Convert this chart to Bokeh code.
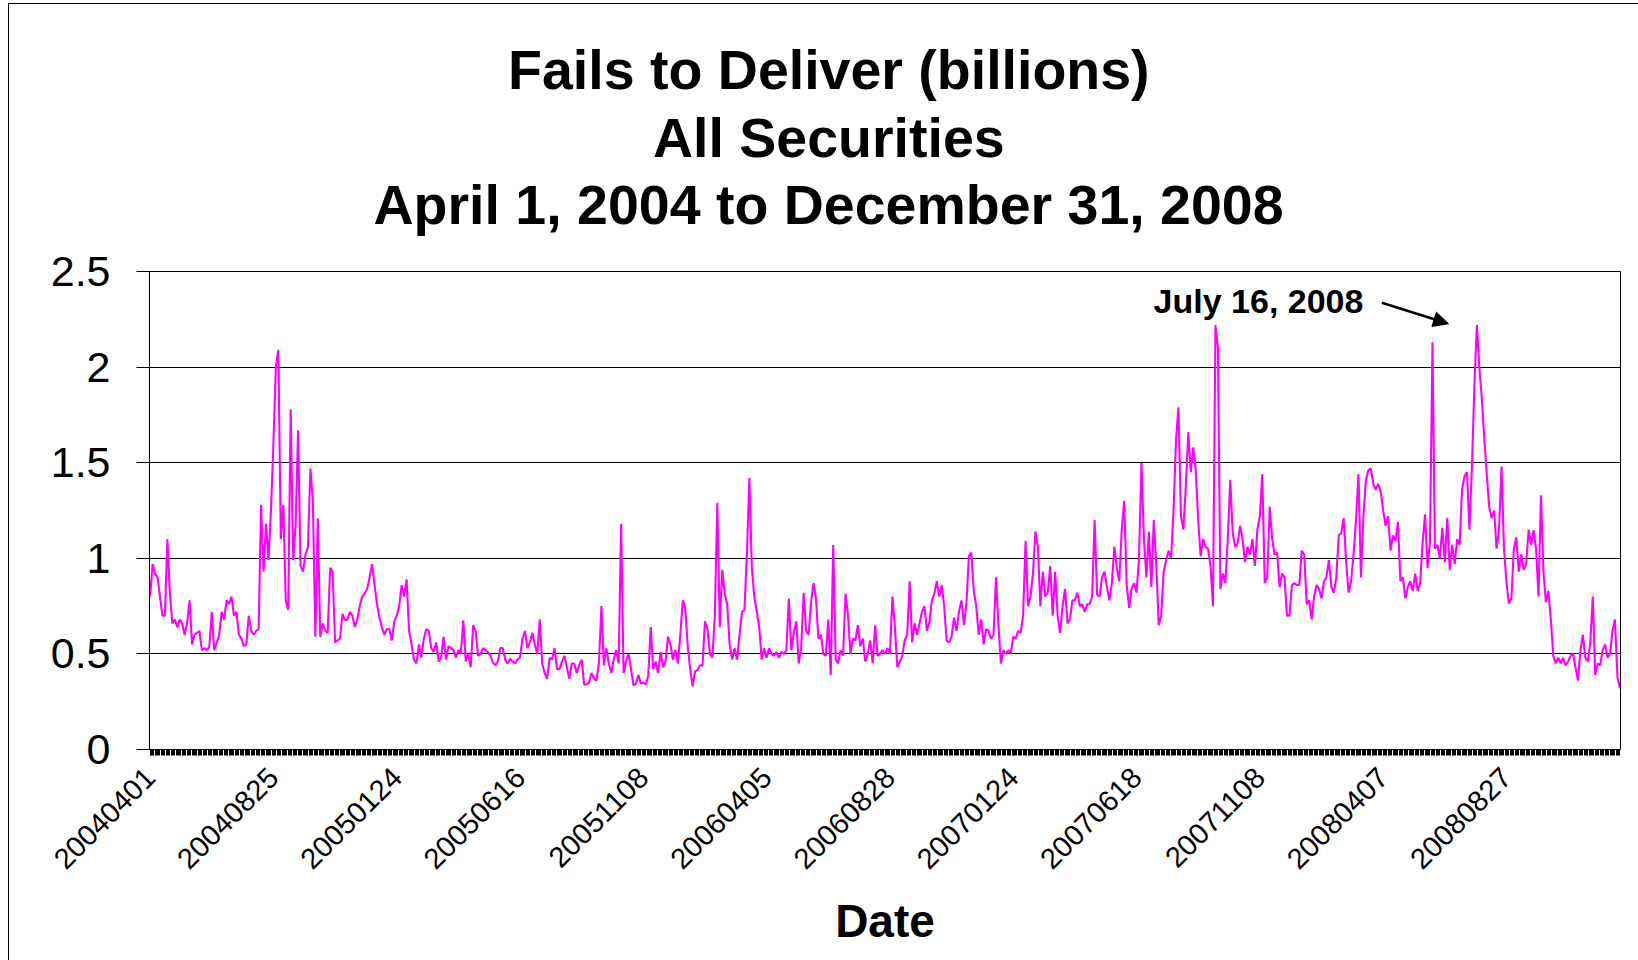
import math
from bokeh.plotting import figure
from bokeh.models import (Range1d, FixedTicker, NumeralTickFormatter, Title,
                          Label, Arrow, NormalHead)
from bokeh.embed import file_html
from bokeh.resources import INLINE

# ---------------- text ----------------
title_lines = ["Fails to Deliver (billions)",
               "All Securities",
               "April 1, 2004 to December 31, 2008"]
x_axis_label = "Date"
annotation_text = "July 16, 2008"

# category labels shown on the x axis (one every 100 trading days)
tick_labels = ["20040401", "20040825", "20050124", "20050616", "20051108",
               "20060405", "20060828", "20070124", "20070618", "20071108",
               "20080407", "20080827"]
days_per_label = 100
y_ticks = [0, 0.5, 1, 1.5, 2, 2.5]

# ---------------- data: fails to deliver, $ billions ----------------
# one reading every 2 trading days, starting 2004-04-01
days_per_value = 2

part1 = [0.80, 0.97, 0.92, 0.90, 0.80, 0.70, 0.70, 1.10, 0.82, 0.66,
         0.68, 0.64, 0.68, 0.66, 0.60, 0.66, 0.78, 0.55, 0.60, 0.61,
         0.62, 0.52, 0.53, 0.52, 0.535, 0.72, 0.52, 0.56, 0.60, 0.72,
         0.68, 0.78, 0.76, 0.80, 0.70, 0.72, 0.60, 0.58, 0.54, 0.55,
         0.70, 0.62, 0.60, 0.62, 0.63, 1.28, 0.93, 1.18, 0.99, 1.25,
         1.60, 2.00, 2.09, 1.10, 1.28, 0.78, 0.73, 1.78, 0.99, 1.17,
         1.67, 0.96, 0.93, 1.02, 1.06, 1.47, 1.30, 0.59, 1.21, 0.59,
         0.66, 0.62, 0.61, 0.95, 0.93, 0.56]

part2 = [0.57, 0.58, 0.71, 0.675, 0.68, 0.72, 0.70, 0.64, 0.68, 0.75,
         0.80, 0.815, 0.84, 0.90, 0.97, 0.86, 0.76, 0.69, 0.64, 0.60,
         0.63, 0.63, 0.57, 0.67, 0.70, 0.75, 0.86, 0.80, 0.89, 0.62,
         0.55, 0.47, 0.45, 0.55, 0.48, 0.58, 0.63, 0.62, 0.53, 0.51,
         0.56, 0.46, 0.48, 0.59, 0.47, 0.54, 0.53, 0.52, 0.48, 0.52,
         0.50, 0.675, 0.46, 0.50, 0.43, 0.65, 0.62, 0.49, 0.50, 0.53,
         0.52, 0.51, 0.49, 0.455, 0.44, 0.46, 0.53, 0.53, 0.47, 0.45,
         0.475, 0.46, 0.45, 0.47, 0.48]

part3 = [0.58, 0.62, 0.53, 0.56, 0.61, 0.55, 0.50, 0.68, 0.45, 0.40,
         0.37, 0.48, 0.47, 0.53, 0.42, 0.42, 0.46, 0.49, 0.43, 0.37,
         0.45, 0.45, 0.40, 0.44, 0.47, 0.34, 0.34, 0.35, 0.40, 0.37,
         0.36, 0.45, 0.75, 0.44, 0.53, 0.45, 0.40, 0.47, 0.52, 0.45,
         1.18, 0.40, 0.46, 0.50, 0.42, 0.335, 0.345, 0.39, 0.345, 0.35,
         0.34, 0.385, 0.64, 0.42, 0.46, 0.40, 0.51, 0.43, 0.46, 0.59,
         0.55, 0.47, 0.52, 0.45, 0.60, 0.78, 0.74, 0.54, 0.42, 0.33,
         0.41, 0.415, 0.44, 0.44, 0.67]

part4 = [0.63, 0.50, 0.48, 0.70, 1.29, 0.64, 0.94, 0.815, 0.76, 0.55,
         0.47, 0.53, 0.47, 0.60, 0.72, 0.73, 1.02, 1.42, 0.95, 0.80,
         0.72, 0.64, 0.47, 0.53, 0.48, 0.53, 0.50, 0.49, 0.51, 0.48,
         0.51, 0.50, 0.52, 0.79, 0.52, 0.61, 0.67, 0.45, 0.53, 0.82,
         0.62, 0.60, 0.77, 0.87, 0.79, 0.58, 0.60, 0.50, 0.49, 0.68,
         0.39, 1.07, 0.47, 0.45, 0.52, 0.49, 0.815, 0.70, 0.50, 0.58,
         0.57, 0.65, 0.54, 0.58, 0.46, 0.50, 0.57, 0.45, 0.65, 0.49,
         0.50, 0.52, 0.50, 0.53, 0.50]

part5 = [0.80, 0.64, 0.43, 0.46, 0.49, 0.57, 0.60, 0.88, 0.56, 0.66,
         0.60, 0.66, 0.72, 0.75, 0.62, 0.667, 0.78, 0.815, 0.88, 0.80,
         0.86, 0.75, 0.57, 0.56, 0.59, 0.69, 0.62, 0.72, 0.78, 0.65,
         0.76, 1.01, 1.03, 0.83, 0.75, 0.60, 0.68, 0.55, 0.63, 0.62,
         0.58, 0.60, 0.90, 0.65, 0.45, 0.52, 0.50, 0.52, 0.50, 0.59,
         0.58, 0.62, 0.61, 0.70, 1.09, 0.75, 0.80, 0.92, 1.14, 1.06,
         0.75, 0.93, 0.80, 0.82, 0.96, 0.70, 0.93, 0.70, 0.61, 0.75,
         0.84, 0.66, 0.68, 0.78, 0.78]

part6 = [0.82, 0.75, 0.76, 0.72, 0.76, 0.76, 0.80, 1.20, 0.81, 0.80,
         0.90, 0.93, 0.85, 0.78, 0.87, 1.06, 0.95, 0.88, 1.15, 1.30,
         0.86, 0.74, 0.84, 0.87, 0.82, 1.00, 1.50, 1.10, 0.90, 1.14,
         0.85, 1.20, 0.97, 0.65, 0.70, 0.93, 0.99, 1.04, 1.00, 1.25,
         1.62, 1.79, 1.22, 1.15, 1.38, 1.66, 1.45, 1.58, 1.46, 1.20,
         1.01, 1.10, 1.06, 1.05, 0.96, 0.75, 2.22, 2.10, 0.84, 0.92,
         0.87, 1.10, 1.41, 1.13, 1.06, 1.08, 1.17, 1.10, 0.98, 1.06,
         1.02, 1.10, 0.96, 1.15, 1.22]

part7 = [1.44, 0.87, 0.90, 1.27, 1.10, 1.02, 1.03, 0.85, 0.92, 0.90,
         0.70, 0.70, 0.86, 0.87, 0.86, 0.86, 1.04, 1.02, 0.76, 0.78,
         0.68, 0.80, 0.86, 0.84, 0.79, 0.88, 0.90, 0.99, 0.85, 0.82,
         0.90, 1.12, 1.13, 1.21, 0.98, 0.82, 0.88, 1.02, 1.20, 1.44,
         0.90, 1.22, 1.41, 1.46, 1.47, 1.39, 1.36, 1.39, 1.35, 1.25,
         1.17, 1.22, 1.04, 1.12, 1.09, 1.19, 0.88, 0.90, 0.79, 0.85,
         0.88, 0.83, 0.92, 0.83, 0.87, 1.08, 1.23, 0.95, 1.09, 2.13,
         1.05, 1.07, 1.00, 1.16, 0.98]

part8 = [1.21, 0.94, 1.07, 0.97, 1.10, 1.07, 1.36, 1.43, 1.45, 1.15,
         1.48, 1.90, 2.22, 2.00, 1.84, 1.63, 1.44, 1.27, 1.21, 1.25,
         1.05, 1.15, 1.48, 1.05, 0.876, 0.763, 0.79, 1.05, 1.11, 0.93,
         1.02, 0.94, 0.97, 1.15, 1.07, 1.147, 1.05, 0.80, 1.33, 0.93,
         0.77, 0.83, 0.68, 0.49, 0.45, 0.48, 0.45, 0.48, 0.44, 0.46,
         0.49, 0.50, 0.43, 0.36, 0.52, 0.60, 0.48, 0.46, 0.56, 0.80,
         0.39, 0.45, 0.44, 0.52, 0.55, 0.48, 0.50, 0.62, 0.68, 0.38,
         0.32]

fails = part1 + part2 + part3 + part4 + part5 + part6 + part7 + part8
days = [days_per_value * i for i in range(len(fails))]

# July 16, 2008 = the 2008 peak (largest value in the last part)
start8 = len(fails) - len(part8)
peak_i = start8 + max(range(len(part8)), key=lambda j: part8[j])
peak_day = days[peak_i]

# ---------------- layout (pixels) ----------------
W, H = 1638, 960
FRAME_L, FRAME_R, FRAME_T, FRAME_B = 149, 1620, 271, 749
X0, X1 = -0.5, days[-1] + 0.5
Y0, Y1 = 0.0, 2.5


def to_y(py):
    return Y0 + (FRAME_B - py) * (Y1 - Y0) / (FRAME_B - FRAME_T)


FONT = "Liberation Sans"

p = figure(width=W, height=H, output_backend="svg", toolbar_location=None,
           x_range=Range1d(X0, X1), y_range=Range1d(Y0, Y1),
           min_border_left=FRAME_L, min_border_right=W - FRAME_R,
           min_border_top=FRAME_T, min_border_bottom=H - FRAME_B)
p.background_fill_color = "white"
p.border_fill_color = None
p.outline_line_color = "black"
p.outline_line_width = 1
# chart-area border (left and top edges, as in the spreadsheet chart)
p.styles = {"background": "linear-gradient(#000, #000) 8px 3px / 1px 957px no-repeat, "
                          "linear-gradient(#000, #000) 8px 3px / 1630px 1px no-repeat, "
                          "#ffffff"}

# ---- three-line title (panels stacked outward from the frame) ----
def spacer(standoff):
    return Title(text=" ", text_font_size="1px", standoff=standoff)


def title_line(txt, offset, standoff):
    return Title(text=txt, align="left", offset=offset, standoff=standoff,
                 text_font=FONT, text_font_size="55.5px",
                 text_font_style="bold", text_color="black")


p.add_layout(spacer(29.9), "above")
p.add_layout(title_line(title_lines[2], 224, 4.4), "above")
p.add_layout(title_line(title_lines[1], 503.5, 3.6), "above")
p.add_layout(title_line(title_lines[0], 358.6, 2.6), "above")
p.add_layout(spacer(29.5), "above")

# x axis
p.xaxis.ticker = FixedTicker(
    ticks=[days_per_label * k for k in range(len(tick_labels))],
    minor_ticks=list(range(0, days[-1] + 1)))
p.xaxis.major_label_overrides = {days_per_label * k: lab
                                 for k, lab in enumerate(tick_labels)}
p.xaxis.major_label_orientation = math.pi / 4
p.xaxis.major_tick_out = 6
p.xaxis.major_tick_in = 0
p.xaxis.minor_tick_out = 6
p.xaxis.minor_tick_in = 0
p.xaxis.major_tick_line_color = "black"
p.xaxis.minor_tick_line_color = "black"
p.xaxis.axis_line_color = "black"
p.xaxis.major_label_text_font = FONT
p.xaxis.major_label_text_font_size = "29px"
p.xaxis.major_label_text_color = "black"
p.xaxis.major_label_standoff = 17
p.xaxis.axis_label = x_axis_label
p.xaxis.axis_label_text_font = FONT
p.xaxis.axis_label_text_font_size = "46px"
p.xaxis.axis_label_text_font_style = "bold"
p.xaxis.axis_label_text_color = "black"
p.xaxis.axis_label_standoff = 14
p.xgrid.visible = False

# y axis
p.yaxis.ticker = FixedTicker(ticks=y_ticks)
p.yaxis.formatter = NumeralTickFormatter(format="0.[0]")
p.yaxis.major_tick_out = 13
p.yaxis.major_tick_in = 0
p.yaxis.minor_tick_out = 0
p.yaxis.minor_tick_in = 0
p.yaxis.major_tick_line_color = "black"
p.yaxis.axis_line_color = "black"
p.yaxis.major_label_text_font = FONT
p.yaxis.major_label_text_font_size = "43px"
p.yaxis.major_label_text_color = "black"
p.yaxis.major_label_standoff = 26
p.ygrid.ticker = FixedTicker(ticks=y_ticks)
p.ygrid.grid_line_color = "black"
p.ygrid.grid_line_width = 1

# series
p.line(days, fails, line_color="#FF00FF", line_width=2.1)

# annotation pointing at the July 16, 2008 peak
p.add_layout(Label(x=peak_day - 92, y=to_y(300.5), text=annotation_text,
                   text_align="right", text_baseline="alphabetic",
                   text_font=FONT, text_font_size="34px",
                   text_font_style="bold", text_color="black"))
p.add_layout(Arrow(end=NormalHead(size=15, fill_color="black",
                                  line_color="black"),
                   x_start=peak_day - 77, y_start=to_y(302.3),
                   x_end=peak_day - 23, y_end=to_y(323.3),
                   line_color="black", line_width=2.5))

open("out.html", "w").write(file_html(p, INLINE))
